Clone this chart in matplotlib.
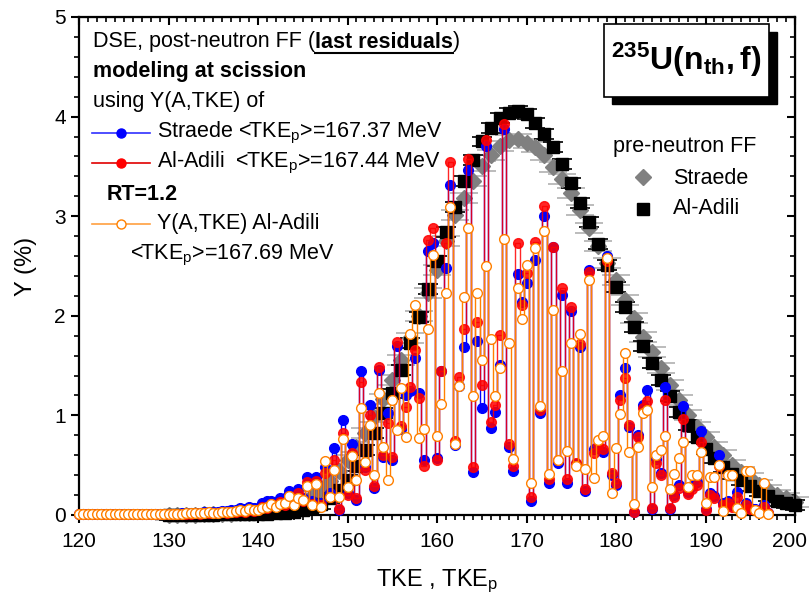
import numpy as np
import matplotlib
matplotlib.use("Agg")
from matplotlib import pyplot as plt
from matplotlib.ticker import MultipleLocator
from matplotlib.lines import Line2D
from matplotlib.patches import Rectangle
from matplotlib.transforms import ScaledTranslation

plt.rcParams["font.family"] = ["Liberation Sans", "DejaVu Sans"]
plt.rcParams["mathtext.fontset"] = "custom"
plt.rcParams["mathtext.rm"] = "Liberation Sans"
plt.rcParams["mathtext.it"] = "Liberation Sans:italic"
plt.rcParams["mathtext.bf"] = "Liberation Sans:bold"

# post-neutron yields on a 0.5 MeV TKE_p grid (120 ... 197)
tke_p = np.arange(120.0, 197.01, 0.5)

y_straede_post = [
    0.01, 0.01, 0.01, 0.01, 0.01, 0.01, 0.01, 0.01, 0.01, 0.01,
    0.01, 0.01, 0.01, 0.01, 0.01, 0.01, 0.01, 0.01, 0.01, 0.01,
    0.01, 0.01, 0.01, 0.02, 0.02, 0.02, 0.02, 0.02, 0.03, 0.03,
    0.03, 0.03, 0.04, 0.04, 0.05, 0.05, 0.07, 0.06, 0.08, 0.07,
    0.07, 0.12, 0.14, 0.14, 0.11, 0.17, 0.17, 0.24, 0.15, 0.26,
    0.17, 0.38, 0.14, 0.38, 0.12, 0.48, 0.22, 0.67, 0.05, 0.95,
    0.22, 0.71, 0.15, 1.45, 0.48, 1.10, 0.27, 1.46, 0.58, 1.02,
    0.55, 1.70, 0.86, 1.20, 1.25, 1.58, 1.22, 0.55, 2.65, 2.73,
    0.57, 1.45, 2.48, 3.31, 0.70, 1.30, 1.69, 3.46, 0.43, 1.75,
    1.07, 3.70, 0.87, 1.03, 1.51, 3.88, 0.68, 0.44, 2.42, 2.14,
    2.33, 0.14, 2.56, 1.02, 3.00, 0.32, 2.69, 0.52, 2.21, 0.32,
    2.05, 0.51, 1.69, 0.24, 2.46, 0.66, 0.68, 0.63, 2.60, 0.40,
    0.30, 1.20, 1.48, 0.88, 0.03, 0.80, 1.10, 1.26, 0.06, 0.56,
    0.42, 1.29, 0.06, 0.20, 0.30, 1.09, 0.23, 0.29, 0.33, 0.84,
    0.06, 0.22, 0.19, 0.60, 0.12, 0.14, 0.10, 0.23, 0.06, 0.12,
    0.07, 0.06, 0.04, 0.10, 0.02,
]

y_aladili_post = [
    0.01, 0.01, 0.01, 0.01, 0.01, 0.01, 0.01, 0.01, 0.01, 0.01,
    0.01, 0.01, 0.01, 0.01, 0.01, 0.01, 0.01, 0.01, 0.01, 0.01,
    0.01, 0.01, 0.01, 0.01, 0.01, 0.01, 0.02, 0.01, 0.02, 0.02,
    0.02, 0.02, 0.03, 0.02, 0.03, 0.03, 0.04, 0.03, 0.05, 0.04,
    0.05, 0.08, 0.07, 0.11, 0.09, 0.13, 0.10, 0.19, 0.12, 0.22,
    0.14, 0.33, 0.11, 0.34, 0.10, 0.42, 0.18, 0.55, 0.06, 0.82,
    0.20, 0.62, 0.17, 1.34, 0.45, 1.00, 0.29, 1.49, 0.60, 0.92,
    0.58, 1.74, 0.89, 1.08, 1.29, 1.66, 1.17, 0.49, 2.76, 2.88,
    0.55, 1.45, 2.73, 3.54, 0.74, 1.39, 1.87, 3.57, 0.48, 1.94,
    1.31, 3.77, 0.93, 1.10, 1.81, 3.93, 0.71, 0.49, 2.73, 2.11,
    2.43, 0.18, 2.74, 1.05, 3.10, 0.36, 2.69, 0.55, 2.28, 0.36,
    2.09, 0.52, 1.72, 0.26, 2.44, 0.62, 0.70, 0.66, 2.55, 0.42,
    0.32, 1.15, 1.38, 0.90, 0.03, 0.78, 1.07, 1.14, 0.07, 0.52,
    0.40, 1.15, 0.07, 0.18, 0.27, 0.96, 0.21, 0.26, 0.30, 0.73,
    0.05, 0.20, 0.17, 0.49, 0.10, 0.12, 0.08, 0.18, 0.05, 0.10,
    0.06, 0.05, 0.03, 0.08, 0.02,
]

y_aladili_rt = [
    0.01, 0.01, 0.01, 0.01, 0.01, 0.01, 0.01, 0.01, 0.01, 0.01,
    0.01, 0.01, 0.01, 0.01, 0.01, 0.01, 0.01, 0.01, 0.01, 0.01,
    0.01, 0.01, 0.01, 0.01, 0.02, 0.02, 0.02, 0.02, 0.02, 0.03,
    0.02, 0.02, 0.03, 0.03, 0.03, 0.04, 0.05, 0.04, 0.06, 0.05,
    0.05, 0.07, 0.08, 0.11, 0.08, 0.11, 0.12, 0.19, 0.10, 0.17,
    0.15, 0.29, 0.10, 0.31, 0.08, 0.54, 0.18, 0.45, 0.18, 0.76,
    0.28, 0.59, 0.35, 1.07, 0.53, 0.90, 0.40, 1.22, 0.68, 0.35,
    1.15, 0.85, 1.28, 0.78, 1.82, 2.11, 0.77, 0.86, 1.87, 2.61,
    0.79, 1.11, 2.23, 3.09, 0.71, 1.30, 2.19, 2.88, 1.19, 2.23,
    1.56, 2.50, 1.77, 1.19, 1.48, 2.77, 1.73, 0.56, 2.28, 1.97,
    2.51, 0.32, 2.68, 1.09, 2.85, 0.41, 2.06, 0.55, 1.45, 0.64,
    1.73, 0.49, 1.82, 0.46, 2.36, 0.37, 0.75, 0.79, 2.58, 0.22,
    0.67, 1.01, 1.63, 0.63, 0.11, 0.68, 1.02, 1.05, 0.28, 0.60,
    0.65, 0.79, 0.26, 0.41, 0.57, 0.73, 0.28, 0.40, 0.40, 0.63,
    0.12, 0.38, 0.38, 0.50, 0.04, 0.40, 0.40, 0.07, 0.02, 0.44,
    0.44, 0.05, 0.02, 0.32, 0.01,
]

# pre-neutron yields on 1 MeV TKE grid (130 ... 200)
tke = np.arange(130, 201, 1)

y_straede_pre = [
    0.003, 0.003, 0.004, 0.005, 0.006, 0.008, 0.010, 0.013, 0.017, 0.022,
    0.03, 0.04, 0.05, 0.07, 0.10, 0.14, 0.19, 0.26, 0.34, 0.44,
    0.55, 0.68, 0.82, 0.98, 1.16, 1.36, 1.56, 1.78, 2.00, 2.23,
    2.46, 2.75, 3.01, 3.18, 3.35, 3.50, 3.61, 3.70, 3.77, 3.78,
    3.73, 3.69, 3.61, 3.49, 3.37, 3.23, 3.06, 2.88, 2.70, 2.53,
    2.36, 2.16, 1.98, 1.79, 1.64, 1.48, 1.31, 1.15, 1.00, 0.88,
    0.78, 0.68, 0.60, 0.50, 0.43, 0.37, 0.30, 0.25, 0.20, 0.17,
    0.13,
]

y_aladili_pre = [
    0.002, 0.002, 0.003, 0.003, 0.004, 0.005, 0.006, 0.007, 0.008, 0.009,
    0.010, 0.012, 0.016, 0.025, 0.035, 0.05, 0.08, 0.11, 0.17, 0.25,
    0.35, 0.49, 0.65, 0.82, 1.02, 1.22, 1.46, 1.73, 1.99, 2.27,
    2.55, 2.84, 3.09, 3.35, 3.56, 3.75, 3.89, 3.99, 4.04, 4.06,
    4.03, 3.94, 3.83, 3.69, 3.52, 3.33, 3.13, 2.94, 2.72, 2.51,
    2.29, 2.09, 1.89, 1.70, 1.53, 1.36, 1.19, 1.03, 0.90, 0.78,
    0.66, 0.57, 0.48, 0.41, 0.35, 0.29, 0.24, 0.19, 0.14, 0.12,
    0.10,
]

err_pre = 0.05

W, H = 810, 598
fig = plt.figure(figsize=(W / 100, H / 100), dpi=100)
ax = fig.add_axes([79 / W, 1 - 515 / H, (795 - 79) / W, (515 - 17) / H])


def fx(px):
    return px / W


def fy(py):
    return 1 - py / H


# pre-neutron data
ax.errorbar(tke, y_straede_pre, yerr=err_pre, fmt="D", ms=8, color="#808080",
            ecolor="#b0b0b0", elinewidth=1, capsize=10, capthick=1.2, zorder=2, clip_on=False)
ax.errorbar(tke, y_aladili_pre, yerr=err_pre, fmt="s", ms=8.5, color="black",
            ecolor="black", elinewidth=1, capsize=7, capthick=1.2, zorder=2, clip_on=False)

# post-neutron (DSE) data
ax.plot(tke_p, y_straede_post, "-o", drawstyle="steps-mid", color="#0000ff", lw=1, ms=7,
        zorder=3, clip_on=False)
ax.plot(tke_p, y_aladili_post, "-o", drawstyle="steps-mid", color="#ff0000", lw=1, ms=7,
        zorder=4, alpha=0.85, clip_on=False)
ax.plot(tke_p, y_aladili_rt, "-o", drawstyle="steps-mid", color="#ff8000", lw=1, ms=7,
        mfc="white", mec="#ff8000", mew=1, zorder=5, clip_on=False)

ax.set_xlim(120, 200)
ax.set_ylim(0, 5)
ax.set_xticks(np.arange(120, 201, 10))
ax.xaxis.set_minor_locator(MultipleLocator(1))
ax.set_yticks(np.arange(0, 6, 1))
ax.yaxis.set_minor_locator(MultipleLocator(0.2))
ax.tick_params(which="major", direction="out", length=6, width=1.5, labelsize=15)
ax.tick_params(axis="x", which="major", pad=6)
ax.tick_params(which="minor", direction="out", length=3.5, width=1.2)
for s in ax.spines.values():
    s.set_linewidth(1.6)

top = ax.secondary_xaxis("top")
top.xaxis.set_major_locator(MultipleLocator(10))
top.xaxis.set_minor_locator(MultipleLocator(1))
top.tick_params(which="major", direction="in", length=6, width=1.5, labeltop=False)
top.tick_params(which="minor", direction="in", length=3.5, width=1.2)
right = ax.secondary_yaxis("right")
right.yaxis.set_major_locator(MultipleLocator(1))
right.yaxis.set_minor_locator(MultipleLocator(0.2))
right.tick_params(which="major", direction="in", length=6, width=1.5, labelright=False)
right.tick_params(which="minor", direction="in", length=3.5, width=1.2)

ax.set_xlabel(r"TKE , TKE$_\mathrm{p}$", fontsize=17, labelpad=12)
ax.set_ylabel("Y (%)", fontsize=17, labelpad=12)

# text block, top left
fs = 15.5
t1 = fig.text(fx(93), fy(42), "DSE, post-neutron FF (", fontsize=fs, va="center")
fig.canvas.draw()
r = fig.canvas.get_renderer()

# keep the "200" label inside the picture
for lab in ax.get_xticklabels():
    if lab.get_text() == "200":
        lab.set_transform(lab.get_transform() + ScaledTranslation(-6 / 100, 0, fig.dpi_scale_trans))

bb = t1.get_window_extent(r)
t2 = fig.text(bb.x1 / W, fy(42), "last residuals", fontsize=fs, fontweight="bold", va="center")
bb2 = t2.get_window_extent(r)
fig.text(bb2.x1 / W, fy(42), ")", fontsize=fs, va="center")
fig.add_artist(Line2D([bb2.x0 / W, bb2.x1 / W], [fy(53), fy(53)], color="black", lw=1.5,
                      transform=fig.transFigure))
fig.text(fx(93), fy(72), "modeling at scission", fontsize=fs, fontweight="bold", va="center")
fig.text(fx(93), fy(102), "using Y(A,TKE) of", fontsize=fs, va="center")

legend_rows = [
    (133, "#3030ff", "#0000ff", "#0000ff", r"Straede <TKE$_\mathrm{p}$>=167.37 MeV"),
    (163, "#e00000", "#ff0000", "#ff0000", r"Al-Adili  <TKE$_\mathrm{p}$>=167.44 MeV"),
    (224, "#ffa040", "white", "#ff8000", "Y(A,TKE) Al-Adili"),
]
for py, lc, mfc, mec, label in legend_rows:
    fig.add_artist(Line2D([fx(92), fx(150)], [fy(py), fy(py)], color=lc, lw=1.2,
                          transform=fig.transFigure))
    fig.add_artist(Line2D([fx(121)], [fy(py)], marker="o", ms=6.5, mfc=mfc, mec=mec,
                          transform=fig.transFigure))
    fig.text(fx(157), fy(py), label, fontsize=fs, va="center")
fig.text(fx(107), fy(195), "RT=1.2", fontsize=fs, fontweight="bold", va="center")
fig.text(fx(130), fy(255), r"<TKE$_\mathrm{p}$>=167.69 MeV", fontsize=fs, va="center")

# reaction box with shadow
fig.add_artist(Rectangle((fx(612), fy(104)), (777 - 612) / W, (104 - 32) / H,
                         facecolor="black", edgecolor="black", transform=fig.transFigure))
fig.add_artist(Rectangle((fx(604), fy(97)), (769 - 604) / W, (97 - 24) / H,
                         facecolor="white", edgecolor="black", lw=1.2, transform=fig.transFigure))
fig.text(fx(686), fy(60), r"$\mathbf{^{235}U(n_{th},f)}$", fontsize=23, ha="center", va="center")

# pre-neutron legend
fig.text(fx(613), fy(146), "pre-neutron FF", fontsize=fs, va="center")
fig.add_artist(Line2D([fx(643)], [fy(177)], marker="D", ms=8, color="#808080",
                      transform=fig.transFigure))
fig.text(fx(673), fy(178), "Straede", fontsize=fs, va="center")
fig.add_artist(Line2D([fx(643)], [fy(209)], marker="s", ms=8.5, color="black",
                      transform=fig.transFigure))
fig.text(fx(673), fy(209), "Al-Adili", fontsize=fs, va="center")

fig.savefig("out.png", dpi=100)
